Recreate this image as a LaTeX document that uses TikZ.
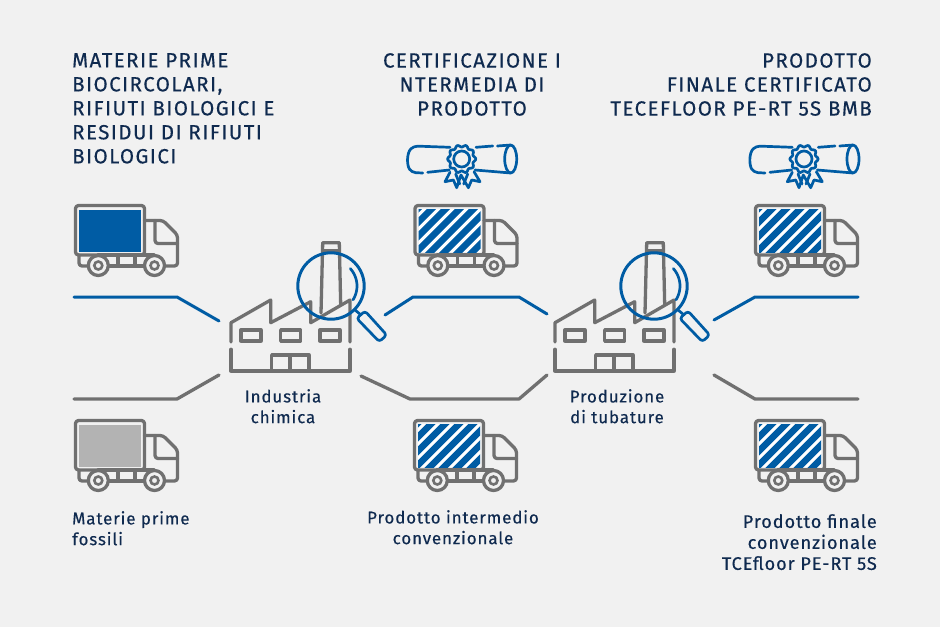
\documentclass[tikz,border=0pt]{standalone}
\usepackage{fontspec}
\setmainfont{Fira Sans}
\newfontfamily\ttlfont[LetterSpace=7,FakeBold=0.4]{Fira Sans}
\newfontfamily\lblfont[LetterSpace=5,FakeBold=0.3]{Fira Sans}
\definecolor{bgc}{HTML}{F1F1F1}
\definecolor{gr}{HTML}{707070}
\definecolor{bl}{HTML}{005CA4}
\definecolor{nv}{HTML}{0F2A4F}
\definecolor{lg}{HTML}{B3B3B3}
\newcommand{\truckframe}{%
  \draw[grline,rounded corners=3pt] (1.5,1.5) rectangle (70.5,51);
  \draw[grline,rounded corners=3pt] (70.5,16.5) -- (89,16.5) -- (103.5,31) -- (103.5,62) -- (80,62);
  \draw[grline,rounded corners=3pt] (81,16.5) -- (81,39.5) -- (103.5,39.5);
  \draw[grline,rounded corners=3pt] (5,51) -- (5,62) -- (24,62);
  \draw[grline] (24,62) -- (80,62);
  \draw[grline] (44,51) -- (44,62) (61,51) -- (61,62) (24,51) -- (80,51);
  \foreach \cx in {24.3,80.5}{
    \draw[grline,fill=bgc] (\cx,61.5) circle (10);
    \draw[line width=2.6pt,gr,fill=bgc] (\cx,61.5) circle (4);
  }%
}
\tikzset{
  x=1pt,y=-1pt,
  grline/.style={draw=gr,line width=3.3pt,line cap=round,line join=round},
  blline/.style={draw=bl,line width=3pt,line cap=round,line join=round},
  bl2/.style={draw=bl,line width=2.7pt,line cap=round,line join=round},
  ttl/.style={text=nv,inner sep=0pt,font=\ttlfont\fontsize{20.5}{24}\selectfont},
  lbl/.style={text=nv,inner sep=0pt,font=\lblfont\fontsize{17}{20.7}\selectfont},
  lblbig/.style={text=nv,inner sep=0pt,font=\lblfont\fontsize{18.2}{21}\selectfont},
  pics/solidtruck/.style={code={
    \fill[#1] (5,5.5) rectangle (67,48);
    \truckframe
  }},
  pics/hatchtruck/.style={code={
    \begin{scope}
      \clip (5,5.5) rectangle (67,48);
      \fill[white] (5,5) rectangle (67,48);
      \foreach \k in {-6,...,6}{
        \draw[bl,line width=6.6pt] (\k*14+10,55) -- (\k*14+70,-5);
      }
    \end{scope}
    \truckframe
  }},
  pics/factory/.style={code={
    \draw[grline] (0,42) -- (0,22.7) -- (39.7,0) -- (39.7,22.7) -- (79.7,1.7) -- (79.7,22.7) -- (119,0) -- (119,42);
    \draw[grline] (0,49.3) -- (0,71) -- (119,71) -- (119,49.3);
    \foreach \wx in {10,49.7,89}{
      \draw[grline] (\wx,30) rectangle ++(20,11);
    }
    \draw[grline] (40.7,71) -- (40.7,55) -- (78,55) -- (78,71) (59,55) -- (59,71);
    \draw[grline] (90,13) -- (91.7,-57.3) -- (108.3,-57.3) -- (109.7,5) (91.5,-49.3) -- (108.5,-49.3);
  }},
  pics/lens/.style={code={
    \draw[blline] (0,0) circle (33.2);
    \draw[bl2,smooth,samples=15,domain=-42:32] plot ({26*cos(\x)},{26*sin(\x)});
    \draw[bl2] (23.5,23.5) -- (30,29);
    \draw[bl2,rounded corners=3pt] (34,25) -- (55.7,49) -- (48.3,55.7) -- (25.7,32.3) -- cycle;
  }},
  pics/diploma/.style={code={
    % origin = seal centre
    \draw[bl2,rounded corners=4pt] (-39,14) -- (-50,13.5) .. controls (-55,6) and (-55,-6) .. (-48,-13) -- (-11.7,-11.7);
    \draw[bl2] (14.3,-11.7) -- (31,-13) (35.7,-13) -- (49,-14) (-34,13.3) -- (-12.3,11) (13.3,11) -- (49,14);
    \draw[bl2] (49,0) ellipse (6 and 14);
    \draw[bl2,smooth,samples=73,domain=0:360] plot ({(13+1.1*cos(10*\x))*cos(\x)},{(13+1.1*cos(10*\x))*sin(\x)});
    \draw[bl2] (0,0) circle (8);
    \draw[bl2] (-11.7,13.3) -- (-16.7,22.7) -- (-8.3,21) -- (-5,28.7) -- (-0.7,16) -- (6.7,28.7) -- (10,21) -- (18.3,22.7) -- (12.3,12.7);
    \draw[bl2] (-6,15) -- (-2,25) (6,15) -- (2,25);
  }}
}
\begin{document}
\begin{tikzpicture}
\useasboundingbox[fill=bgc] (0,0) rectangle (940,627);

% connectors
\coordinate (a1) at (74,297); \coordinate (a2) at (177,297); \coordinate (a3) at (219,321);
\coordinate (b1) at (74,399); \coordinate (b2) at (177,399); \coordinate (b3) at (219,375);
\coordinate (c1) at (385,315); \coordinate (c2) at (413,297); \coordinate (c3) at (519,297); \coordinate (c4) at (547,314);
\coordinate (d1) at (361,376); \coordinate (d2) at (410,399); \coordinate (d3) at (519,399); \coordinate (d4) at (547,375);
\coordinate (e1) at (714,320); \coordinate (e2) at (755,297); \coordinate (e3) at (858,297);
\coordinate (f1) at (714,375); \coordinate (f2) at (755,399); \coordinate (f3) at (858,399);
\draw[blline] (a1) -- (a2) -- (a3);
\draw[grline] (b1) -- (b2) -- (b3);
\draw[blline] (c1) -- (c2) -- (c3) -- (c4);
\draw[grline] (d1) -- (d2) -- (d3) -- (d4);
\draw[blline] (e1) -- (e2) -- (e3);
\draw[grline] (f1) -- (f2) -- (f3);

% trucks
\pic at (74,204) {solidtruck=bl};
\pic at (74,419) {solidtruck=lg};
\pic at (413.5,204) {hatchtruck};
\pic at (413,419) {hatchtruck};
\pic at (754,204) {hatchtruck};
\pic at (754,419) {hatchtruck};

% factories
\pic at (231,300) {factory};
\pic at (555,300) {factory};
\pic at (331,286) {lens};
\pic at (654,286) {lens};

% diplomas
\pic at (461.7,159) {diploma};
\pic at (804,159) {diploma};

% titles
\node[ttl,anchor=north west,align=left] (t1) at (72,53) {MATERIE PRIME\\BIOCIRCOLARI,\\RIFIUTI BIOLOGICI E\\RESIDUI DI RIFIUTI\\BIOLOGICI};
\node[ttl,anchor=north,align=center] (t2) at (472,53) {CERTIFICAZIONE I\\NTERMEDIA DI\\PRODOTTO};
\node[ttl,anchor=north east,align=right] (t3) at (872,53) {PRODOTTO\hspace{4pt}\\FINALE CERTIFICATO\hspace{4pt}\\TECEFLOOR PE-RT 5S BMB};

% labels
\node[lbl,anchor=north,align=center] (l1) at (283,389) {Industria\\chimica};
\node[lbl,anchor=north,align=center] (l2) at (617,389) {Produzione\\di tubature};
\node[lbl,anchor=north west,align=left] (l3) at (72,511) {Materie prime\\fossili};
\node[lbl,anchor=north,align=center] (l4) at (453,510) {Prodotto intermedio\\convenzionale};
\node[lblbig,anchor=north east,align=right] (l5) at (877,514) {Prodotto finale\hspace{4pt}\\convenzionale\hspace{4pt}\\TCEfloor PE-RT 5S};
\end{tikzpicture}
\end{document}
